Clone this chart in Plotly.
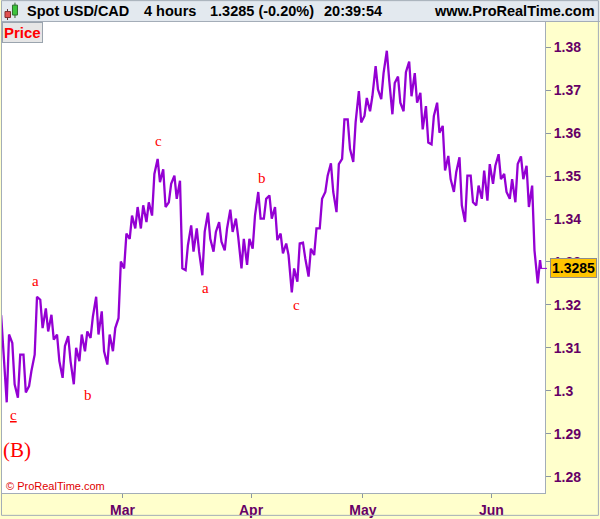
import pandas as pd
import plotly.graph_objects as go

# ---------------- data ----------------
sessions = pd.bdate_range("2017-01-30", "2017-06-13")   # 97 trading days of 4h bars
high = [
    1.3176, 1.3131, 1.3111, 1.3084, 1.3084, 1.3046, 1.3219, 1.3212, 1.3192, 1.3177,
    1.3131, 1.3104, 1.3127, 1.3100, 1.3131, 1.3138, 1.3173, 1.3219, 1.3185, 1.3131,
    1.3146, 1.3301, 1.3366, 1.3408, 1.3428, 1.3432, 1.3439, 1.3505, 1.3540, 1.3516,
    1.3482, 1.3501, 1.3489, 1.3339, 1.3385, 1.3378, 1.3370, 1.3415, 1.3370, 1.3393,
    1.3378, 1.3422, 1.3401, 1.3354, 1.3354, 1.3408, 1.3463, 1.3447, 1.3455, 1.3428,
    1.3366, 1.3343, 1.3285, 1.3343, 1.3345, 1.3331, 1.3378, 1.3447, 1.3501, 1.3530,
    1.3528, 1.3632, 1.3632, 1.3625, 1.3698, 1.3682, 1.3686, 1.3756, 1.3740, 1.3792,
    1.3717, 1.3732, 1.3742, 1.3767, 1.3740, 1.3694, 1.3663, 1.3640, 1.3671, 1.3617,
    1.3547, 1.3509, 1.3544, 1.3501, 1.3501, 1.3478, 1.3513, 1.3528, 1.3524, 1.3551,
    1.3505, 1.3493, 1.3528, 1.3546, 1.3524, 1.3478, 1.3304,
]
low = [
    1.3084, 1.2973, 1.3015, 1.2984, 1.2996, 1.3011, 1.3084, 1.3146, 1.3138, 1.3119,
    1.3069, 1.3030, 1.3069, 1.3015, 1.3069, 1.3092, 1.3123, 1.3131, 1.3092, 1.3061,
    1.3092, 1.3169, 1.3285, 1.3354, 1.3378, 1.3378, 1.3393, 1.3408, 1.3486, 1.3428,
    1.3439, 1.3447, 1.3285, 1.3281, 1.3324, 1.3324, 1.3269, 1.3354, 1.3324, 1.3347,
    1.3327, 1.3370, 1.3358, 1.3285, 1.3293, 1.3331, 1.3401, 1.3401, 1.3401, 1.3351,
    1.3320, 1.3316, 1.3229, 1.3254, 1.3308, 1.3266, 1.3316, 1.3378, 1.3463, 1.3463,
    1.3416, 1.3540, 1.3563, 1.3533, 1.3625, 1.3640, 1.3651, 1.3702, 1.3679, 1.3725,
    1.3644, 1.3671, 1.3651, 1.3686, 1.3671, 1.3609, 1.3578, 1.3574, 1.3601, 1.3513,
    1.3493, 1.3463, 1.3432, 1.3393, 1.3439, 1.3432, 1.3447, 1.3443, 1.3482, 1.3493,
    1.3463, 1.3447, 1.3439, 1.3493, 1.3428, 1.3327, 1.3250,
]
last_price = 1.3285
change_pct = -0.20
clock = "20:39:54"
month_ticks = ["2017-03-01", "2017-04-03", "2017-05-01", "2017-06-01"]
month_labels = ["Mar", "Apr", "May", "Jun"]
price_ticks = [1.28, 1.29, 1.30, 1.31, 1.32, 1.33, 1.34, 1.35, 1.36, 1.37, 1.38]
price_labels = ["1.28", "1.29", "1.3", "1.31", "1.32", "1.33", "1.34", "1.35", "1.36", "1.37", "1.38"]
wave_text = ["<u>c</u>", "a", "b", "c", "a", "b", "c"]
wave_time = ["2017-02-01 14:00", "2017-02-07 12:30", "2017-02-20 21:00", "2017-03-09 12:00",
             "2017-03-21 21:00", "2017-04-05 01:00", "2017-04-13 02:00"]
wave_price = [1.2943, 1.3255, 1.2991, 1.3581, 1.3239, 1.3496, 1.3199]

# ---------------- build the zig-zag high/low path ----------------
xs, ys = [], []
n = len(sessions)
for i, d in enumerate(sessions):
    mid = (high[i] + low[i]) / 2
    nxt = (high[i + 1] + low[i + 1]) / 2 if i + 1 < n else last_price
    a, b = (low[i], high[i]) if nxt > mid else (high[i], low[i])
    xs += [d + pd.Timedelta(hours=7), d + pd.Timedelta(hours=17)]
    ys += [a, b]
xs.append(sessions[-1] + pd.Timedelta(hours=21))
ys.append(last_price)

# ---------------- layout helpers ----------------
W, H = 600, 519
ML, MR, MT, MB = 1, 55, 21, 23
PW, PH = W - ML - MR, H - MT - MB


def px(x):
    return (x - ML) / PW


def py(y):
    return (H - MB - y) / PH


SANS = "Liberation Sans, Arial, sans-serif"
SERIF = "Liberation Serif, Times New Roman, serif"
AXIS_COL = "#660066"
BORDER = "#A3ADB8"

fig = go.Figure()
fig.add_trace(go.Scatter(x=xs, y=ys, mode="lines",
                         line=dict(color="#9400D3", width=2.3),
                         hoverinfo="skip", showlegend=False))

shapes = [
    # header bar
    dict(type="rect", xref="paper", yref="paper", x0=px(0), x1=px(600), y0=py(21.5), y1=py(0),
         fillcolor="#E3E9EF", line=dict(width=0), layer="above"),
    dict(type="line", xref="paper", yref="paper", x0=px(0), x1=px(600), y0=py(21.5), y1=py(21.5),
         line=dict(color=BORDER, width=1), layer="above"),
    # candlestick icon
    dict(type="line", xref="paper", yref="paper", x0=px(6.5), x1=px(6.5), y0=py(20), y1=py(9),
         line=dict(color="#603030", width=1), layer="above"),
    dict(type="rect", xref="paper", yref="paper", x0=px(4), x1=px(9.5), y0=py(17.5), y1=py(11.5),
         fillcolor="#E25050", line=dict(color="#803030", width=1), layer="above"),
    dict(type="line", xref="paper", yref="paper", x0=px(14), x1=px(14), y0=py(18), y1=py(2.5),
         line=dict(color="#306030", width=1), layer="above"),
    dict(type="rect", xref="paper", yref="paper", x0=px(11.5), x1=px(16.5), y0=py(15), y1=py(5),
         fillcolor="#3CC43C", line=dict(color="#307030", width=1), layer="above"),
    # current price pointer
    dict(type="line", xref="paper", yref="y", x0=px(540), x1=px(547), y0=last_price, y1=last_price,
         line=dict(color="#9400D3", width=1), layer="above"),
    # outer frame
    dict(type="rect", xref="paper", yref="paper", x0=px(0.5), x1=px(598.5), y0=py(518.5), y1=py(0.5),
         fillcolor="rgba(0,0,0,0)", line=dict(color=BORDER, width=1), layer="above"),
]

ann = []
hdr = [("Spot USD/CAD", 24, "left"), ("4 hours", 141, "left"),
       (f"{last_price:.4f} ({change_pct:.2f}%)", 207, "left"), (clock, 322, "left"),
       ("www.ProRealTime.com", 597, "right")]
for t, x, anc in hdr:
    ann.append(dict(text=t, xref="paper", yref="paper", x=px(x), y=py(11), xanchor=anc,
                    yanchor="middle", showarrow=False,
                    font=dict(family=SANS, size=14.5, color="black", weight="bold")))
ann.append(dict(text="Price", xref="paper", yref="paper", x=px(1), y=py(22), xanchor="left",
                yanchor="top", showarrow=False, bgcolor="#E6E6E6", bordercolor="#9AA4AE",
                borderwidth=1, borderpad=1,
                font=dict(family=SANS, size=15, color="#FF0000", weight="bold")))
ann.append(dict(text="© ProRealTime.com", xref="paper", yref="paper", x=px(3), y=py(489),
                xanchor="left", yanchor="middle", showarrow=False,
                font=dict(family=SANS, size=11, color="#E00000")))
ann.append(dict(text=f"{last_price:.4f}", xref="paper", yref="y", x=px(550), y=last_price,
                xanchor="left", yanchor="middle", showarrow=False, bgcolor="#FFC400",
                bordercolor="#8C8C8C", borderwidth=1, borderpad=1,
                font=dict(family=SANS, size=14, color="black", weight="bold")))
for t, x, y in zip(wave_text, wave_time, wave_price):
    ann.append(dict(text=t, x=x, y=y, xref="x", yref="y", showarrow=False,
                    font=dict(family=SERIF, size=15, color="#FF0000")))
ann.append(dict(text="(B)", x="2017-02-02 02:00", y=1.2863, xref="x", yref="y", showarrow=False,
                font=dict(family=SERIF, size=21, color="#FF0000")))

fig.update_layout(
    width=W, height=H,
    margin=dict(l=ML, r=MR, t=MT, b=MB, pad=0),
    paper_bgcolor="#FFFFCC", plot_bgcolor="white",
    showlegend=False,
    shapes=shapes, annotations=ann,
    xaxis=dict(type="date", range=["2017-01-30 10:43", "2017-06-14 14:10"],
               rangebreaks=[dict(bounds=["sat", "mon"])],
               tickvals=month_ticks, ticktext=month_labels,
               ticks="outside", ticklen=4, tickcolor="#8A96A3",
               showgrid=False, zeroline=False,
               showline=True, linecolor=BORDER, linewidth=1, mirror=True,
               tickfont=dict(family=SANS, size=14, color=AXIS_COL, weight="bold")),
    yaxis=dict(side="right", range=[1.27618, 1.38613],
               tickvals=price_ticks, ticktext=price_labels,
               ticks="outside", ticklen=5, tickcolor="#8A96A3",
               showgrid=False, zeroline=False,
               showline=True, linecolor=BORDER, linewidth=1, mirror=True,
               tickfont=dict(family=SANS, size=14, color=AXIS_COL, weight="bold")),
)

fig.write_html("out.html", config={"displayModeBar": False},
               post_script="document.body.style.margin='0px';document.body.style.overflow='hidden';")
